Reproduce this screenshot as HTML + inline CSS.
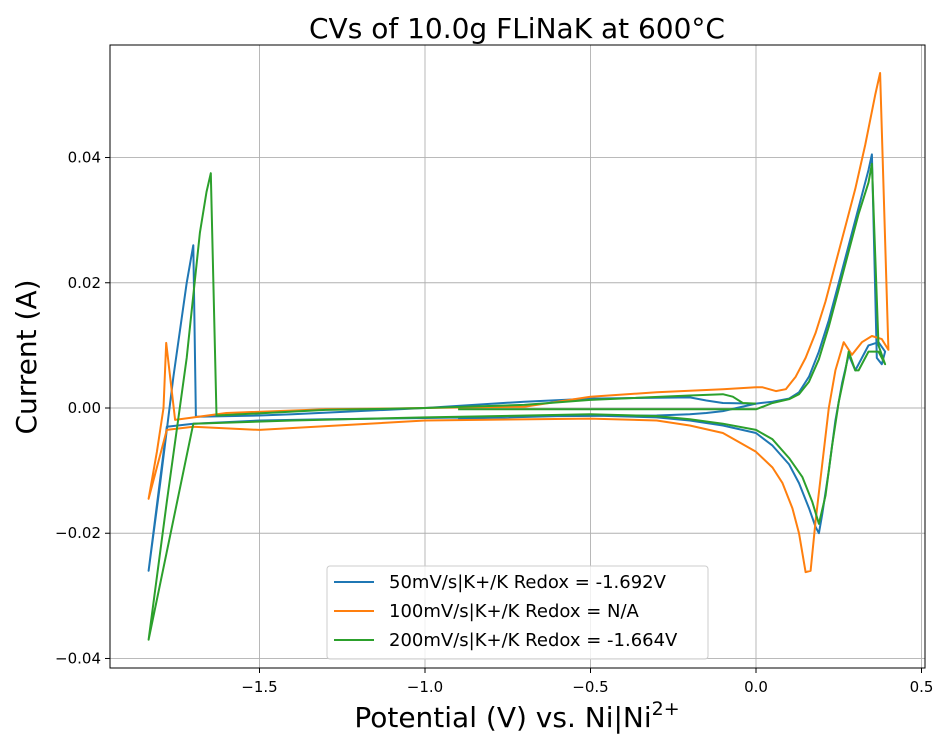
<!DOCTYPE html>
<html><head><meta charset="utf-8"><style>
body{margin:0;background:#fff}
svg text{font-family:"DejaVu Sans","Liberation Sans",sans-serif}
</style></head><body>
<svg id="chart" width="950" height="750" viewBox="0 0 950 750" xmlns="http://www.w3.org/2000/svg">
<rect width="950" height="750" fill="#fff"/>
<text x="517" y="38" font-size="28" text-anchor="middle">CVs of 10.0g FLiNaK at 600°C</text>
<g id="grid"></g>
<g id="series"></g>
<rect x="110" y="45" width="815" height="623" fill="none" stroke="#000" stroke-width="1"/>
<g id="ticks"></g>
<text x="517" y="727" font-size="28" text-anchor="middle">Potential (V) vs. Ni|Ni<tspan dy="-12" font-size="19">2+</tspan></text>
<text x="36" y="357" font-size="28" text-anchor="middle" transform="rotate(-90 36 357)">Current (A)</text>
<g id="legend">
<rect x="327" y="566" width="381" height="93" rx="3" fill="#fff" fill-opacity="0.8" stroke="#ccc"/>
</g>
</svg>
<script>
const xTicks=[-1.5,-1.0,-0.5,0.0,0.5];
const xTickLabels=["−1.5","−1.0","−0.5","0.0","0.5"];
const yTicks=[-0.04,-0.02,0.0,0.02,0.04];
const yTickLabels=["−0.04","−0.02","0.00","0.02","0.04"];
const seriesNames=["50mV/s|K+/K Redox = -1.692V","100mV/s|K+/K Redox = N/A","200mV/s|K+/K Redox = -1.664V"];
const seriesColors=["#1f77b4","#ff7f0e","#2ca02c"];
const blueV=[-0.9,-0.6,-0.3,-0.2,-0.15,-0.1,0,0.05,0.1,0.13,0.16,0.19,0.22,0.25,0.28,0.31,0.34,0.35,0.365,0.38,0.39,0.37,0.34,0.3,0.28,0.26,0.24,0.22,0.2,0.19,0.18,0.16,0.13,0.1,0.05,0,-0.1,-0.2,-0.3,-0.5,-1.0,-1.3,-1.5,-1.7,-1.78,-1.835,-1.8,-1.76,-1.72,-1.7,-1.692,-1.5,-1.4,-1.0,-0.7,-0.5,-0.2,-0.15,-0.1,0];
const blueI=[-0.0017,-0.0013,-0.0012,-0.001,-0.0008,-0.0005,0.0007,0.001,0.0015,0.0025,0.005,0.009,0.014,0.02,0.026,0.032,0.038,0.0405,0.008,0.007,0.009,0.0105,0.01,0.006,0.0085,0.004,-0.002,-0.01,-0.017,-0.02,-0.019,-0.016,-0.012,-0.009,-0.006,-0.004,-0.0028,-0.002,-0.0015,-0.0012,-0.0016,-0.0018,-0.002,-0.0025,-0.003,-0.026,-0.012,0.005,0.02,0.026,-0.0014,-0.0012,-0.001,0,0.001,0.0015,0.0017,0.0012,0.0008,0.0007];
const orangeV=[0,0.02,0.06,0.09,0.12,0.15,0.18,0.21,0.24,0.27,0.3,0.33,0.36,0.375,0.4,0.38,0.35,0.32,0.29,0.265,0.24,0.22,0.2,0.18,0.165,0.15,0.13,0.11,0.08,0.05,0,-0.05,-0.1,-0.2,-0.3,-0.5,-1.0,-1.5,-1.7,-1.78,-1.835,-1.81,-1.79,-1.782,-1.755,-1.6,-1.3,-1.0,-0.7,-0.5,-0.3,-0.1,0];
const orangeI=[0.0033,0.0033,0.0027,0.003,0.005,0.008,0.012,0.017,0.023,0.029,0.035,0.042,0.05,0.0535,0.0093,0.011,0.0115,0.0105,0.0085,0.0105,0.006,0.0,-0.009,-0.018,-0.026,-0.0262,-0.02,-0.016,-0.012,-0.0095,-0.007,-0.0055,-0.004,-0.0028,-0.002,-0.0017,-0.002,-0.0035,-0.003,-0.0035,-0.0145,-0.007,0.0,0.0104,-0.0019,-0.0008,-0.0002,0,0.0002,0.0018,0.0025,0.003,0.0033];
const greenV=[-0.9,-0.5,0,0.05,0.1,0.13,0.16,0.19,0.22,0.25,0.28,0.31,0.34,0.35,0.37,0.39,0.37,0.34,0.31,0.3,0.28,0.27,0.25,0.23,0.21,0.19,0.17,0.14,0.1,0.05,0,-0.1,-0.2,-0.3,-0.5,-1.0,-1.4,-1.7,-1.835,-1.78,-1.72,-1.68,-1.66,-1.647,-1.63,-1.3,-1.0,-0.7,-0.5,-0.2,-0.1,-0.07,-0.04,0];
const greenI=[-0.0002,-0.0002,-0.0002,0.0008,0.0014,0.0022,0.0042,0.0078,0.013,0.019,0.025,0.031,0.036,0.039,0.01,0.007,0.009,0.009,0.006,0.006,0.009,0.006,0.001,-0.006,-0.014,-0.0185,-0.015,-0.011,-0.008,-0.005,-0.0035,-0.0025,-0.0018,-0.0013,-0.001,-0.0015,-0.002,-0.0025,-0.037,-0.015,0.008,0.028,0.0345,0.0375,-0.0012,-0.0003,0,0.0005,0.0013,0.002,0.0022,0.0018,0.0008,0.0007];
const seriesV=[blueV,orangeV,greenV];
const seriesI=[blueI,orangeI,greenI];
const NS="http://www.w3.org/2000/svg";
const xS=v=>756+v*331;
const yS=i=>408-i*6262;
function mk(t,a,p){const e=document.createElementNS(NS,t);for(const k in a)e.setAttribute(k,a[k]);p.appendChild(e);return e;}
const grid=document.getElementById('grid'),ticks=document.getElementById('ticks'),ser=document.getElementById('series'),leg=document.getElementById('legend');
xTicks.forEach((v,k)=>{const x=xS(v);
 const g=mk('line',{x1:x,x2:x,y1:45,y2:668,stroke:'#b0b0b0','stroke-width':0.9},grid);
 
 
 mk('line',{x1:x,x2:x,y1:668,y2:673,stroke:'#000'},ticks);
 const t=mk('text',{x:x,y:692,'font-size':15,'text-anchor':'middle'},ticks);t.textContent=xTickLabels[k];
 
 });
yTicks.forEach((v,k)=>{const y=yS(v);
 const g=mk('line',{x1:110,x2:925,y1:y,y2:y,stroke:'#b0b0b0','stroke-width':0.9},grid);
 
 
 mk('line',{x1:105,x2:110,y1:y,y2:y,stroke:'#000'},ticks);
 const t=mk('text',{x:101,y:y+5,'font-size':15,'text-anchor':'end'},ticks);t.textContent=yTickLabels[k];
 
 });
seriesV.forEach((vs,s)=>{const pts=vs.map((v,j)=>xS(v).toFixed(1)+','+yS(seriesI[s][j]).toFixed(1)).join(' ');
 const p=mk('polyline',{points:pts,fill:'none',stroke:seriesColors[s],'stroke-width':2,'stroke-linejoin':'round'},ser);
 
 
 const y=582+s*29;
 const l=mk('line',{x1:334,x2:374,y1:y,y2:y,stroke:seriesColors[s],'stroke-width':2},leg);
 
 
 const t=mk('text',{x:389,y:y+6,'font-size':18},leg);t.textContent=seriesNames[s];
 
 });
</script>
</body></html>
